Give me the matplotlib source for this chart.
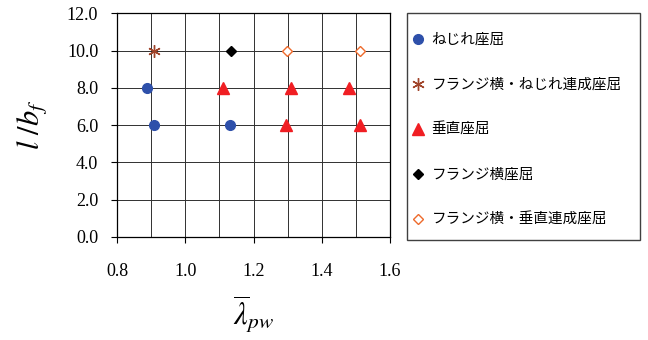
import matplotlib
matplotlib.use('Agg')
import matplotlib.pyplot as plt
from matplotlib.patches import Rectangle
import numpy as np

plt.rcParams['mathtext.fontset'] = 'stix'

# ======================================
# Data
# ======================================
labels = ['ねじれ座屈',
          'フランジ横・ねじれ連成座屈',
          '垂直座屈',
          'フランジ横座屈',
          'フランジ横・垂直連成座屈']

twist_x   = [0.888, 0.907, 1.132]
twist_y   = [8.0, 6.0, 6.0]
ft_x      = [0.907]
ft_y      = [10.0]
vert_x    = [1.111, 1.309, 1.480, 1.295, 1.513]
vert_y    = [8.0, 8.0, 8.0, 6.0, 6.0]
flange_x  = [1.134]
flange_y  = [10.0]
fv_x      = [1.297, 1.513]
fv_y      = [10.0, 10.0]

xticks = [0.8, 1.0, 1.2, 1.4, 1.6]
yticks = [0.0, 2.0, 4.0, 6.0, 8.0, 10.0, 12.0]

W, H = 648., 340.
fig = plt.figure(figsize=(W/100, H/100), dpi=100)
ax  = fig.add_axes([0.1806, 0.303, 0.4213, 0.658])

# grid every 0.1 in x, 2 in y
for xv in np.arange(0.9, 1.55, 0.1):
    ax.axvline(xv, color='#303030', lw=0.7, zorder=1)
for yv in yticks[1:-1]:
    ax.axhline(yv, color='#303030', lw=0.7, zorder=1)

h = []
h += ax.plot(twist_x, twist_y, 'o', color='#2E50AA', ms=7, ls='none', zorder=3)
h += ax.plot(ft_x, ft_y, marker=(6, 2, 0), color='#A0442A', ms=9, mew=1.0, ls='none', zorder=3)
h += ax.plot(vert_x, vert_y, '^', color='#F01E23', ms=8, ls='none', zorder=3)
h += ax.plot(flange_x, flange_y, 'D', color='black', ms=5.5, ls='none', zorder=3)
h += ax.plot(fv_x, fv_y, 'D', mfc='white', mec='#EE6A2C', mew=1.0, ms=5.5, ls='none', zorder=3)

ax.set_xlim(0.8, 1.6)
ax.set_ylim(0, 12)
ax.set_xticks(xticks)
ax.set_yticks(yticks)
ax.set_xticklabels(['{:.1f}'.format(v) for v in xticks], family='Liberation Serif', fontsize=13)
ax.set_yticklabels(['{:.1f}'.format(v) for v in yticks], family='Liberation Serif', fontsize=13)
ax.tick_params(direction='out', length=4.5, width=0.8, color='black')
ax.tick_params(axis='x', pad=14)
ax.tick_params(axis='y', pad=9)
for s in ax.spines.values():
    s.set_color('black')
    s.set_linewidth(0.9)

ax.set_xlabel(r'$\overline{\lambda}_{pw}$', fontsize=22, labelpad=10)
ax.set_ylabel(r'$l\ /b_f$', fontsize=22, labelpad=12)

# legend frame drawn separately
fig.patches.append(Rectangle((407/W, 1-240/H), 233/W, 227/H, transform=fig.transFigure,
                             fill=False, edgecolor='#404040', lw=1.0))
leg = fig.legend(h, labels, loc='upper left', bbox_to_anchor=(414/W, 1-33/H),
                 prop={'family': ['Noto Sans CJK JP', 'DejaVu Sans'], 'size': 10.5},
                 frameon=False, labelspacing=2.12, handlelength=0.6, handletextpad=0.6,
                 borderpad=0, borderaxespad=0)

fig.savefig('out.png', dpi=100)
